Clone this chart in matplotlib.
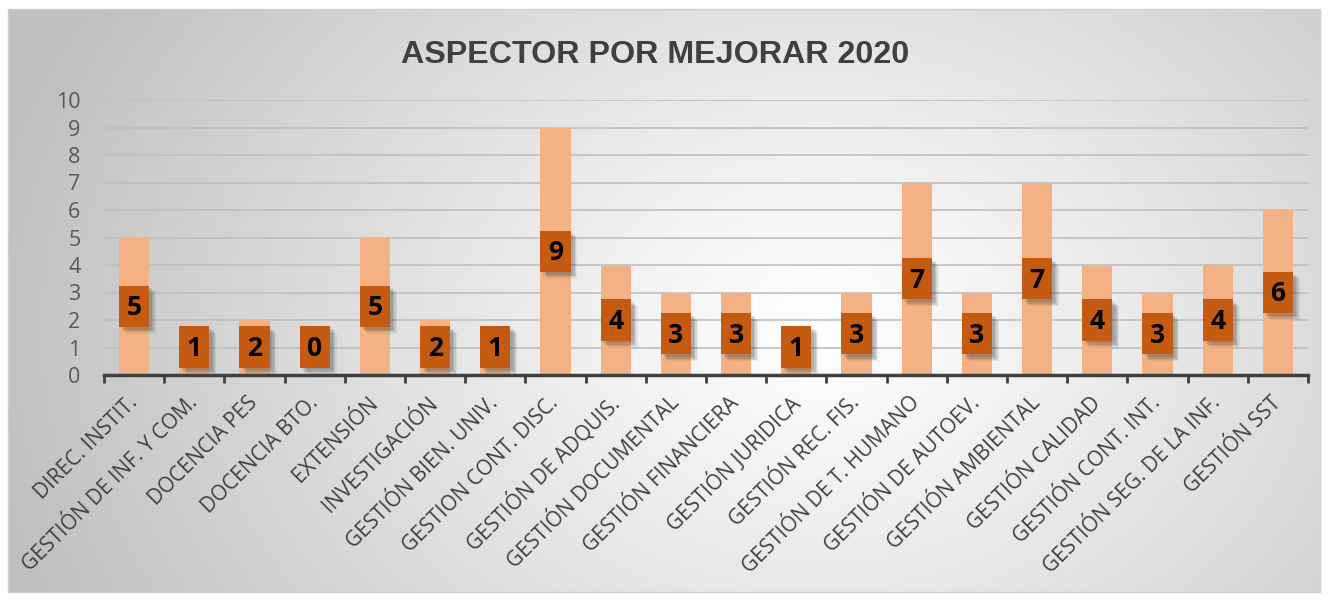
import numpy as np
import matplotlib
matplotlib.use("Agg")
import matplotlib.pyplot as plt
import matplotlib.patheffects as pe

categories = ["DIREC. INSTIT.", "GESTIÓN DE INF. Y COM.", "DOCENCIA PES", "DOCENCIA BTO.",
              "EXTENSIÓN", "INVESTIGACIÓN", "GESTIÓN BIEN. UNIV.", "GESTION CONT. DISC.",
              "GESTIÓN DE ADQUIS.", "GESTIÓN DOCUMENTAL", "GESTIÓN FINANCIERA", "GESTIÓN JURIDICA",
              "GESTIÓN REC. FIS.", "GESTIÓN DE T. HUMANO", "GESTIÓN DE AUTOEV.", "GESTIÓN AMBIENTAL",
              "GESTIÓN CALIDAD", "GESTIÓN CONT. INT.", "GESTIÓN SEG. DE LA INF.", "GESTIÓN SST"]
values = [5, 1, 2, 0, 5, 2, 1, 9, 4, 3, 3, 1, 3, 7, 3, 7, 4, 3, 4, 6]
yticks = list(range(0, 11))
title = "ASPECTOR POR MEJORAR 2020"

W, H = 1328, 600
fig = plt.figure(figsize=(W / 100, H / 100), dpi=100)
fig.patch.set_facecolor("white")

# background gradient panel
bx0, by0, bx1, by1 = 8, 9, 1320, 592
bg = fig.add_axes([bx0 / W, 1 - by1 / H, (bx1 - bx0) / W, (by1 - by0) / H], zorder=0)
yy, xx = np.mgrid[by0:by1, bx0:bx1]
cx, cy = 820, 330
d = np.sqrt(((xx - cx) / 1.0) ** 2 + ((yy - cy) * 1.3) ** 2)
t = np.clip(d / 850, 0, 1)
g = 1.0 - 0.25 * t ** 1.1
img = np.dstack([g, g, g])
bg.imshow(img, aspect="auto", extent=[0, 1, 0, 1], origin="upper")
bg.set_axis_off()
fig.patches.append(plt.Rectangle((bx0 / W, 1 - by1 / H), (bx1 - bx0) / W, (by1 - by0) / H,
                                 transform=fig.transFigure, fill=False, edgecolor="#d0d0d0", lw=1, zorder=1))

ax = fig.add_axes([104 / W, 1 - 375 / H, (1308 - 104) / W, (375 - 100) / H], zorder=2)
ax.set_facecolor("none")

x = np.arange(len(values))
ax.bar(x, values, width=0.5, color="#F4B183", zorder=2)

centers = [max(v / 2, 1.02) for v in values]
boxes = ax.bar(x, [1.5] * len(values), bottom=[c - 0.75 for c in centers], width=0.5,
               color="#C55A11", zorder=3)
shadow = [pe.SimplePatchShadow(offset=(o, -o), shadow_rgbFace="#404040", alpha=a)
          for o, a in [(5, 0.08), (4, 0.12), (3, 0.15), (2, 0.15)]]
for b in boxes:
    b.set_path_effects(shadow + [pe.Normal()])
for xi, c, v in zip(x, centers, values):
    ax.text(xi, c - 0.05, str(v), ha="center", va="center", fontsize=19, fontweight="bold",
            family="Open Sans", color="black", zorder=4)

ax.set_ylim(0, 10)
ax.set_xlim(-0.5, len(values) - 0.5)
ax.set_yticks(yticks)
ax.set_yticklabels([str(v) for v in yticks], family="Open Sans", fontsize=15.5, color="#595959")
ax.tick_params(axis="y", length=0, pad=17)
ax.yaxis.grid(True, color="#BFBFBF", lw=1.2, zorder=1)
ax.set_axisbelow(True)

ax.set_xticks(x)
ax.set_xticklabels(categories, rotation=45, ha="right", va="center", rotation_mode="anchor",
                   family="Open Sans", fontsize=15, color="#404040")
ax.tick_params(axis="x", which="major", length=0, pad=18)
ax.set_xticks(np.arange(-0.5, len(values)), minor=True)
ax.tick_params(axis="x", which="minor", length=6, width=2, color="#404040", direction="out")

for s in ["left", "right", "top"]:
    ax.spines[s].set_visible(False)
ax.spines["bottom"].set_color("#404040")
ax.spines["bottom"].set_linewidth(2.5)

fig.text(655 / W, 1 - 55 / H, title, ha="center", va="center", fontsize=23.2, fontweight="bold",
         family="Liberation Sans", color="#404040")

fig.savefig("out.png", dpi=100)
